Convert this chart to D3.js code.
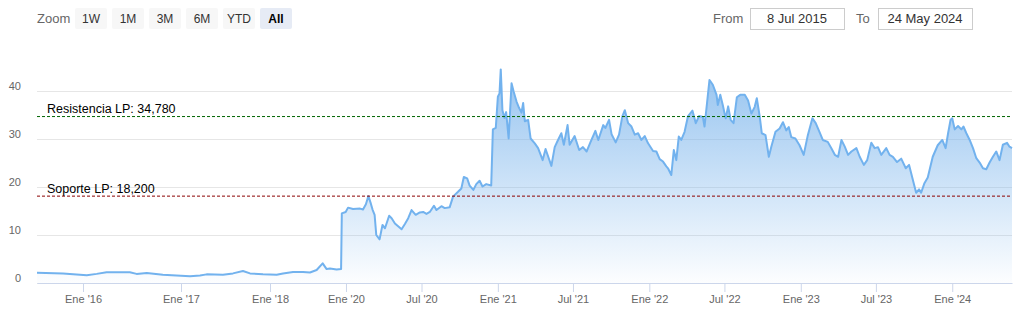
<!DOCTYPE html>
<html>
<head>
<meta charset="utf-8">
<script src="https://cdn.jsdelivr.net/npm/d3@7"></script>
<style>
  body { margin: 0; background: #fff; font-family: "Liberation Sans", Arial, sans-serif; }
</style>
</head>
<body>
<div class="chart"></div>
<script>
// price series
const dates = [
  "2015-07-08","2015-10-16","2016-01-15","2016-02-21","2016-03-29","2016-06-24","2016-07-19","2016-08-26","2016-10-25",
  "2017-02-07","2017-03-20","2017-04-16","2017-06-22","2017-08-02","2017-09-12","2017-10-11","2017-12-03",
  "2018-03-06","2018-05-06","2018-08-10","2018-11-14","2019-01-20","2019-03-25","2019-05-22","2019-06-29","2019-07-31",
  "2019-10-03","2019-11-15","2019-11-22","2019-12-29",
  "2020-01-06","2020-01-18","2020-02-04","2020-02-11","2020-02-18","2020-02-24","2020-02-29","2020-03-05","2020-03-10",
  "2020-03-14","2020-03-22","2020-03-29","2020-04-04","2020-04-14","2020-04-20","2020-04-28","2020-05-14","2020-05-22",
  "2020-05-30","2020-06-07","2020-06-17","2020-06-27","2020-07-05","2020-07-13","2020-07-21","2020-07-31","2020-08-06",
  "2020-08-18","2020-08-26","2020-09-07","2020-09-15","2020-09-27","2020-10-05","2020-10-11","2020-10-19","2020-10-25",
  "2020-11-03","2020-11-10","2020-11-18","2020-11-25","2020-12-04","2020-12-16","2020-12-20","2020-12-27",
  "2021-01-01","2021-01-05","2021-01-08","2021-01-12","2021-01-17","2021-01-21","2021-01-27","2021-02-03","2021-02-08",
  "2021-02-15","2021-02-21","2021-02-27","2021-03-03","2021-03-07","2021-03-15","2021-03-21","2021-03-31","2021-04-08",
  "2021-04-19","2021-04-26","2021-05-02","2021-05-10","2021-05-18","2021-05-26","2021-06-03","2021-06-09","2021-06-18",
  "2021-06-23","2021-07-05","2021-07-16","2021-07-25","2021-08-03","2021-08-12","2021-08-24","2021-08-31","2021-09-12",
  "2021-09-17","2021-09-26","2021-10-02","2021-10-12","2021-10-20","2021-10-28","2021-11-03","2021-11-11","2021-11-19",
  "2021-11-27","2021-12-05","2021-12-13","2021-12-21","2021-12-29",
  "2022-01-10","2022-01-18","2022-01-26","2022-02-03","2022-02-11","2022-02-15","2022-02-23","2022-03-01","2022-03-07",
  "2022-03-13","2022-03-19","2022-03-27","2022-04-04","2022-04-15","2022-04-23","2022-05-01","2022-05-10","2022-05-14",
  "2022-05-20","2022-05-26","2022-06-03","2022-06-12","2022-06-15","2022-06-21","2022-06-27","2022-07-04","2022-07-10",
  "2022-07-16","2022-07-23","2022-07-31","2022-08-08","2022-08-19","2022-08-27","2022-09-04","2022-09-12","2022-09-17",
  "2022-09-24","2022-09-29","2022-10-08","2022-10-16","2022-10-22","2022-11-01","2022-11-11","2022-11-19","2022-11-27",
  "2022-12-03","2022-12-09","2022-12-19","2022-12-29",
  "2023-01-08","2023-01-18","2023-01-29","2023-02-06","2023-02-15","2023-02-23","2023-03-07","2023-03-16","2023-03-24",
  "2023-04-01","2023-04-09","2023-04-17","2023-04-25","2023-05-03","2023-05-15","2023-05-23","2023-06-02","2023-06-10",
  "2023-06-20","2023-06-28","2023-07-06","2023-07-14","2023-07-26","2023-08-03","2023-08-11","2023-08-21","2023-08-31",
  "2023-09-11","2023-09-19","2023-09-28","2023-10-06","2023-10-13","2023-10-18","2023-10-26","2023-11-03","2023-11-15",
  "2023-11-27","2023-12-08","2023-12-16","2023-12-22","2023-12-28",
  "2024-01-01","2024-01-07","2024-01-15","2024-01-23","2024-01-28","2024-02-04","2024-02-12","2024-02-20","2024-02-28",
  "2024-03-07","2024-03-15","2024-03-23","2024-03-31","2024-04-08","2024-04-16","2024-04-24","2024-05-02","2024-05-12",
  "2024-05-18","2024-05-24"
];
const prices = [
  2.15,2.0,1.6,1.9,2.25,2.25,1.9,2.1,1.7,
  1.4,1.55,1.8,1.7,2.0,2.5,2.0,1.8,
  1.7,2.0,2.3,2.3,2.2,2.7,4.1,2.9,3.0,
  2.8,2.9,14.5,14.8,
  15.7,15.4,15.5,15.3,16.4,18.1,16.8,15.3,14.2,
  10.0,9.1,12.1,11.4,14.0,13.5,12.4,11.2,12.3,
  13.5,15.2,14.2,14.7,14.8,14.4,14.8,16.1,15.2,
  16.0,15.6,15.8,18.0,19.0,19.7,22.1,21.8,20.3,
  19.4,20.6,21.3,20.1,20.6,20.3,32.0,32.3,
  38.8,39.5,44.5,36.0,34.4,35.6,30.1,41.6,39.9,
  37.8,36.5,35.5,37.5,33.7,34.0,30.1,29.1,28.1,
  25.6,27.9,26.4,24.4,28.3,29.8,31.2,28.8,32.9,
  28.8,30.6,27.7,28.3,27.4,29.3,31.7,29.8,32.9,
  32.3,34.0,31.0,29.3,30.9,34.7,36.0,33.3,32.6,
  30.9,31.2,29.8,30.6,29.1,
  27.5,27.4,25.8,25.3,24.3,23.9,22.5,27.7,25.6,
  30.5,29.8,31.5,34.7,35.9,33.3,34.8,34.6,32.6,
  37.4,42.3,41.3,39.2,37.1,39.2,37.1,34.3,36.8,
  34.0,33.3,38.7,39.2,39.2,38.0,35.3,36.7,38.5,
  34.7,31.2,30.8,26.3,28.4,31.5,32.2,33.5,31.8,
  32.5,30.4,30.1,28.7,
  26.7,30.8,34.3,33.3,31.5,29.8,29.4,28.0,26.7,
  26.3,29.8,28.4,26.7,27.4,28.1,26.3,24.6,25.6,
  29.2,28.1,28.3,26.7,28.1,26.7,26.3,25.2,25.9,
  23.9,24.6,21.5,18.8,19.5,18.8,20.8,22.0,26.3,
  28.7,29.8,28.1,31.2,34.0,
  34.3,32.0,32.7,32.0,32.6,31.2,29.8,28.1,26.0,
  25.1,23.9,23.7,25.1,26.3,27.4,25.6,28.8,29.2,
  28.4,28.1
];

// ordinal-like time axis: sparse early years take less room
const breakDates = ["2015-07-08","2016-01-01","2017-01-01","2018-01-01","2020-01-01","2024-05-24"];
const breakShare = [0, 0.0472, 0.1477, 0.239, 0.3169, 1];

const tickDates = ["2016-01-01","2017-01-01","2018-01-01","2020-01-01","2020-07-01","2021-01-01","2021-07-01",
                   "2022-01-01","2022-07-01","2023-01-01","2023-07-01","2024-01-01"];
const tickLabels = ["Ene '16","Ene '17","Ene '18","Ene '20","Jul '20","Ene '21","Jul '21",
                    "Ene '22","Jul '22","Ene '23","Jul '23","Ene '24"];
const yTicks = [0, 10, 20, 30, 40];

const levelValues = [34.78, 18.2];
const levelLabels = ["Resistencia LP: 34,780", "Soporte LP: 18,200"];
const levelColors = ["#006400", "#8b0000"];

const zoomButtons = ["1W", "1M", "3M", "6M", "YTD", "All"];
const rangeFrom = "8 Jul 2015";
const rangeTo = "24 May 2024";

const parse = d3.timeParse("%Y-%m-%d");
const data = dates.map((d, i) => ({date: parse(d), value: prices[i]}));

const W = 1021, H = 316;
const margin = {top: 91, right: 9, bottom: 33, left: 37};
const width = W - margin.left - margin.right;
const height = H - margin.top - margin.bottom;

const root = d3.select('.chart').append('svg')
  .attr('width', W)
  .attr('height', H)
  .style('display', 'block');

const svg = root.append('g')
  .attr('transform', `translate(${margin.left},${margin.top})`);

const xScale = d3.scaleTime()
  .domain(breakDates.map(parse))
  .range(breakShare.map(s => s * width));

const yScale = d3.scaleLinear()
  .domain([0, 40])
  .range([height, 0]);

// grid + y labels
const yAxis = d3.axisLeft(yScale).tickValues(yTicks).tickSize(-width).tickPadding(16);
const gy = svg.append('g').attr('class', 'y-axis').call(yAxis);
gy.select('.domain').remove();
gy.selectAll('line').attr('stroke', '#e6e6e6');
gy.selectAll('text')
  .attr('dy', -2)
  .attr('fill', '#666')
  .style('font-size', '11px')
  .style('font-family', '"Liberation Sans", Arial, sans-serif');

// area
const defs = root.append('defs');
const grad = defs.append('linearGradient')
  .attr('id', 'areaFill')
  .attr('x1', 0).attr('y1', 0).attr('x2', 0).attr('y2', 1);
grad.append('stop').attr('offset', 0).attr('stop-color', '#7cb5ec').attr('stop-opacity', 0.8);
grad.append('stop').attr('offset', 1).attr('stop-color', '#7cb5ec').attr('stop-opacity', 0.02);

const area = d3.area()
  .x(d => xScale(d.date))
  .y0(height)
  .y1(d => yScale(d.value));

const line = d3.line()
  .x(d => xScale(d.date))
  .y(d => yScale(d.value));

svg.append('path')
  .datum(data)
  .attr('d', area)
  .attr('fill', 'url(#areaFill)');

svg.append('path')
  .datum(data)
  .attr('d', line)
  .attr('fill', 'none')
  .attr('stroke', '#72b2ee')
  .attr('stroke-width', 2)
  .attr('stroke-linejoin', 'round');

// x axis
const xAxis = d3.axisBottom(xScale)
  .tickValues(tickDates.map(parse))
  .tickFormat((d, i) => tickLabels[i])
  .tickSizeInner(9)
  .tickSizeOuter(0)
  .tickPadding(3);

const gx = svg.append('g')
  .attr('class', 'x-axis')
  .attr('transform', `translate(0,${height})`)
  .call(xAxis);
gx.select('.domain').attr('stroke', '#ccd6eb');
gx.selectAll('line').attr('stroke', '#ccd6eb');
gx.selectAll('text')
  .attr('fill', '#666')
  .style('font-size', '11px')
  .style('font-family', '"Liberation Sans", Arial, sans-serif');

// support / resistance lines
levelValues.forEach((v, i) => {
  svg.append('line')
    .attr('x1', 0).attr('x2', width)
    .attr('y1', yScale(v) + 0.5).attr('y2', yScale(v) + 0.5)
    .attr('stroke', levelColors[i])
    .attr('stroke-width', 1)
    .attr('stroke-dasharray', '3,2');
  svg.append('text')
    .attr('x', 10)
    .attr('y', yScale(v) - 3)
    .attr('fill', '#000')
    .style('font-size', '12.5px')
    .text(levelLabels[i]);
});

// range selector
const header = root.append('g').style('font-family', '"Liberation Sans", Arial, sans-serif');
header.append('text')
  .attr('x', 37).attr('y', 23)
  .attr('fill', '#666')
  .style('font-size', '13px')
  .text('Zoom');

const btn = header.selectAll('.btn')
  .data(zoomButtons)
  .enter()
  .append('g')
  .attr('class', 'btn')
  .attr('transform', (d, i) => `translate(${75 + i * 37},8)`);
btn.append('rect')
  .attr('width', 32).attr('height', 21).attr('rx', 2)
  .attr('fill', d => d === 'All' ? '#e6ebf5' : '#f7f7f7');
btn.append('text')
  .attr('x', 16).attr('y', 15)
  .attr('text-anchor', 'middle')
  .attr('fill', d => d === 'All' ? '#000' : '#333')
  .style('font-size', '12px')
  .style('font-weight', d => d === 'All' ? 'bold' : 'normal')
  .text(d => d);

const inputs = [
  {label: 'From', lx: 713, bx: 750, value: rangeFrom},
  {label: 'To', lx: 856, bx: 878, value: rangeTo}
];
inputs.forEach(inp => {
  header.append('text')
    .attr('x', inp.lx).attr('y', 23)
    .attr('fill', '#666')
    .style('font-size', '13px')
    .text(inp.label);
  header.append('rect')
    .attr('x', inp.bx + 0.5).attr('y', 8.5)
    .attr('width', 94).attr('height', 21)
    .attr('fill', '#fff')
    .attr('stroke', '#ccc');
  header.append('text')
    .attr('x', inp.bx + 47).attr('y', 23)
    .attr('text-anchor', 'middle')
    .attr('fill', '#333')
    .style('font-size', '13px')
    .text(inp.value);
});
</script>
</body>
</html>
